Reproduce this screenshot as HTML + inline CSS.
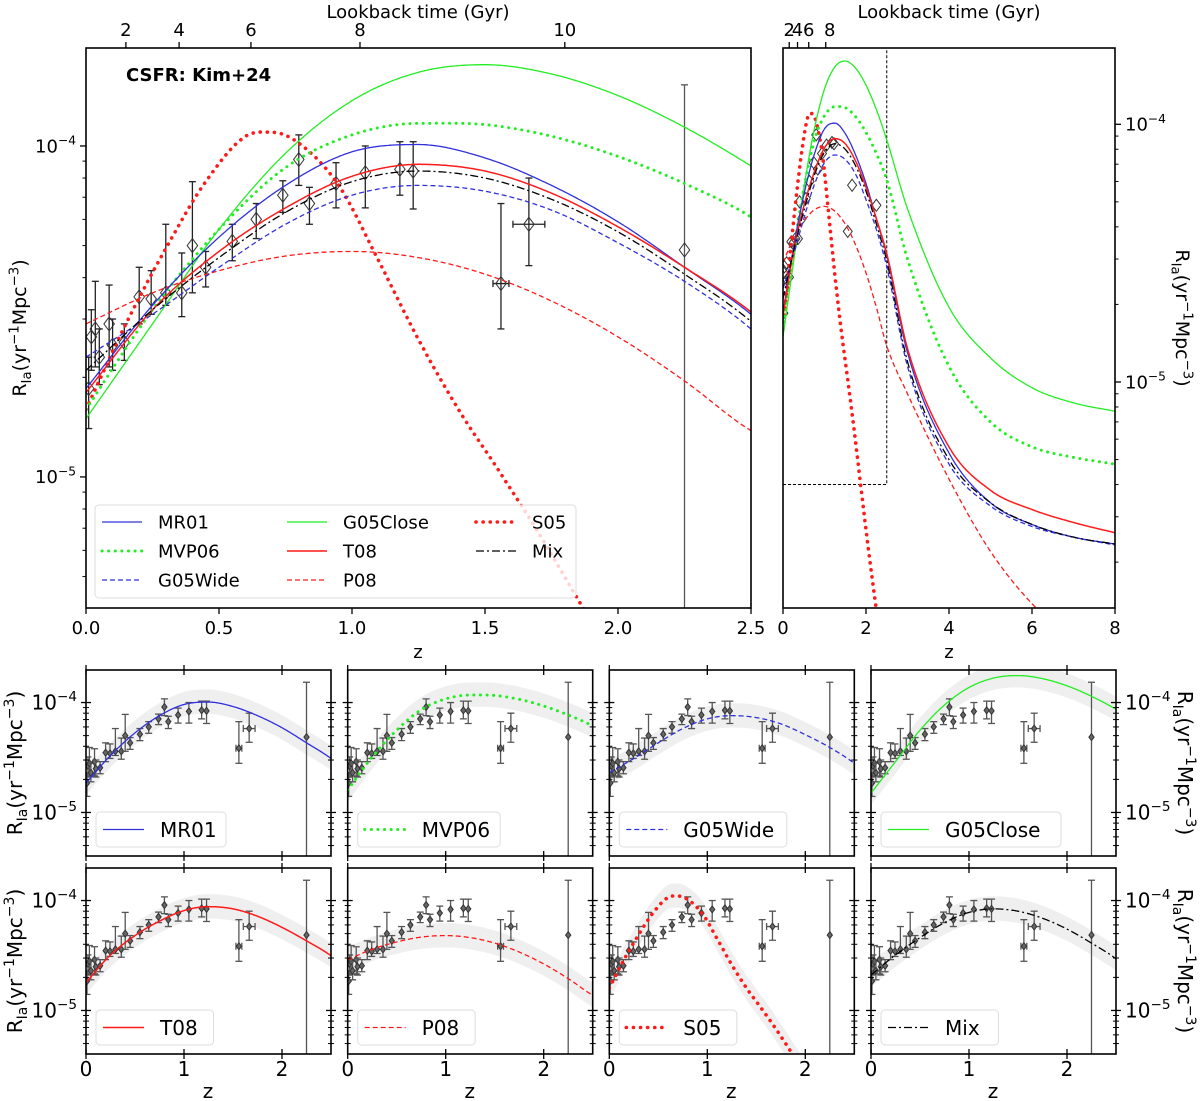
<!DOCTYPE html>
<html><head><meta charset="utf-8"><style>
html,body{margin:0;padding:0;background:#fff}
svg{display:block;font-family:"DejaVu Sans","Liberation Sans",sans-serif}
</style></head><body>
<svg id="fig" width="1200" height="1101" viewBox="0 0 1200 1101" xmlns="http://www.w3.org/2000/svg">
<defs id="defs"></defs>
</svg>
<script>
// ---- model curves (redshift grid and rates) ----
const zGrid=[0,0.25,0.5,0.75,1.0,1.25,1.5,1.75,2.0,2.25,2.5,3,4,5,6,7,8];
const mr01=[1.85e-5,3.3e-5,5.3e-5,7.6e-5,9.6e-5,1.01e-4,9.2e-5,7.6e-5,5.9e-5,4.3e-5,3.1e-5,1.3e-5,5.3e-6,3.4e-6,2.8e-6,2.5e-6,2.35e-6];
const mvp06=[1.6e-5,3.2e-5,5.6e-5,8.6e-5,1.08e-4,1.17e-4,1.16e-4,1.07e-4,9.3e-5,7.7e-5,6.1e-5,3.0e-5,1.15e-5,7.0e-6,5.6e-6,5.1e-6,4.8e-6];
const g05wide=[2.3e-5,3.1e-5,4.3e-5,5.8e-5,7.1e-5,7.6e-5,7.3e-5,6.4e-5,5.1e-5,3.9e-5,2.8e-5,1.15e-5,4.8e-6,3.3e-6,2.75e-6,2.5e-6,2.33e-6];
const g05close=[1.5e-5,2.9e-5,5.6e-5,9.5e-5,1.37e-4,1.67e-4,1.76e-4,1.65e-4,1.42e-4,1.14e-4,8.7e-5,4.7e-5,1.95e-5,1.24e-5,9.5e-6,8.3e-6,7.7e-6];
const t08=[1.8e-5,3.2e-5,4.8e-5,6.5e-5,8.1e-5,8.8e-5,8.4e-5,7.2e-5,5.7e-5,4.3e-5,3.15e-5,1.35e-5,5.6e-6,3.8e-6,3.2e-6,2.85e-6,2.6e-6];
const p08=[2.9e-5,3.6e-5,4.2e-5,4.65e-5,4.8e-5,4.6e-5,4.1e-5,3.4e-5,2.65e-5,1.95e-5,1.38e-5,9e-6,4.2e-6,2.2e-6,1.38e-6,1.0e-6,0.8e-6];
const mix=[2.1e-5,3.2e-5,4.6e-5,6.3e-5,7.8e-5,8.4e-5,8.0e-5,6.9e-5,5.5e-5,4.1e-5,2.95e-5,1.2e-5,5.0e-6,3.4e-6,2.8e-6,2.5e-6,2.35e-6];
const zS05=[0,0.15,0.3,0.45,0.6,0.7,0.8,0.95,1.1,1.25,1.4,1.55,1.7,1.87,2.05,2.25];
const s05=[1.6e-5,2.9e-5,4.9e-5,7.8e-5,1.07e-4,1.1e-4,1.02e-4,7.6e-5,4.5e-5,2.6e-5,1.6e-5,1.05e-5,6.8e-6,4e-6,2.3e-6,1.3e-6];
// ---- observed rates ----
const obsZ=[0.01,0.02,0.035,0.05,0.087,0.1,0.144,0.2,0.245,0.3,0.36,0.40,0.45,0.55,0.64,0.74,0.80,0.84,0.94,1.05,1.18,1.23,1.56,1.665,2.25];
const obsR=[1.85e-5,2.65e-5,2.8e-5,2.3e-5,2.9e-5,2.5e-5,2.55e-5,3.5e-5,3.45e-5,3.6e-5,3.6e-5,5.0e-5,4.3e-5,5.15e-5,6.0e-5,7.1e-5,9.1e-5,6.7e-5,7.7e-5,8.3e-5,8.5e-5,8.4e-5,3.84e-5,5.8e-5,4.85e-5];
const obsLo=[1.4e-5,2.1e-5,2.15e-5,1.9e-5,2.15e-5,2.1e-5,2.25e-5,2.9e-5,3.1e-5,3.3e-5,3.05e-5,3.6e-5,3.75e-5,4.5e-5,5.25e-5,6.3e-5,7.6e-5,5.8e-5,6.5e-5,6.5e-5,7.1e-5,6.45e-5,2.8e-5,4.35e-5,4.0e-6];
const obsHi=[2.3e-5,3.2e-5,3.9e-5,2.8e-5,3.8e-5,3.0e-5,2.9e-5,4.3e-5,4.2e-5,5.8e-5,4.75e-5,7.8e-5,4.8e-5,5.8e-5,6.7e-5,7.85e-5,1.08e-4,7.5e-5,8.9e-5,1.0e-4,1.03e-4,1.03e-4,6.7e-5,8.0e-5,1.53e-4];
const obsXerr=[0,0,0,0,0,0,0,0,0,0,0,0,0,0,0,0,0,0,0,0,0,0,0.03,0.06,0];
// ---- axes tick data ----
const lookTicks=["2","4","6","8","10"];
const lookZ=[0.15,0.35,0.62,1.03,1.8];
const mainXTicks=[0,0.5,1.0,1.5,2.0,2.5];
const rightXTicks=[0,2,4,6,8];
const smallXTicks=[0,1,2];

const NS="http://www.w3.org/2000/svg";
const svg=document.getElementById('fig');
const defs=document.getElementById('defs');
function el(tag,attrs,parent){const e=document.createElementNS(NS,tag);for(const k in attrs)e.setAttribute(k,attrs[k]);(parent||svg).appendChild(e);return e;}

const BLUE="#3030dd",GREEN="#22ee22",RED="#ff1a1a";
const styles={
 mr01:{c:BLUE,w:1.3,d:null,label:"MR01"},
 mvp06:{c:GREEN,w:3,d:"0.1 6.5",cap:"round",label:"MVP06"},
 g05wide:{c:BLUE,w:1.3,d:"5 3",label:"G05Wide"},
 g05close:{c:GREEN,w:1.3,d:null,label:"G05Close"},
 t08:{c:RED,w:1.5,d:null,label:"T08"},
 p08:{c:RED,w:1.3,d:"5 3",label:"P08"},
 s05:{c:RED,w:3.6,d:"0.1 7",cap:"round",label:"S05"},
 mix:{c:"#000",w:1.3,d:"8 3 2 3",label:"Mix"}
};
const seriesData={mr01:[zGrid,mr01],mvp06:[zGrid,mvp06],g05wide:[zGrid,g05wide],g05close:[zGrid,g05close],t08:[zGrid,t08],p08:[zGrid,p08],s05:[zS05,s05],mix:[zGrid,mix]};

function mkAxis(x0,x1,y0,y1,zmax,lt,lb){
 return {x0,x1,y0,y1,zmax,lt,lb,
  X:z=>x0+(z/zmax)*(x1-x0),
  Y:v=>y0+(lt-Math.log10(v))/(lt-lb)*(y1-y0)};
}
function interp(xs,ys){
 const n=xs.length,l=ys.map(v=>Math.log10(v)),m=new Array(n),d=[];
 for(let i=0;i<n-1;i++)d.push((l[i+1]-l[i])/(xs[i+1]-xs[i]));
 m[0]=d[0];m[n-1]=d[n-2];
 for(let i=1;i<n-1;i++)m[i]=(d[i-1]*d[i]<=0)?0:(d[i-1]+d[i])/2;
 return z=>{let i=0;while(i<n-2&&z>xs[i+1])i++;const h=xs[i+1]-xs[i],t=(z-xs[i])/h;
  const h00=2*t*t*t-3*t*t+1,h10=t*t*t-2*t*t+t,h01=-2*t*t*t+3*t*t,h11=t*t*t-t*t;
  return Math.pow(10,h00*l[i]+h10*h*m[i]+h01*l[i+1]+h11*h*m[i+1]);};
}
let clipN=0;
function clip(ax){const id='c'+(clipN++);const cp=el('clipPath',{id},defs);el('rect',{x:ax.x0,y:ax.y0,width:ax.x1-ax.x0,height:ax.y1-ax.y0},cp);return 'url(#'+id+')';}
function curvePts(ax,key,zlim,scale){const [zs,vs]=seriesData[key];const f=interp(zs,vs);const zend=Math.min(zlim,zs[zs.length-1]);const pts=[];for(let k=0;k<=400;k++){const z=zend*k/400;pts.push([ax.X(z),ax.Y(f(z)*(scale||1))]);}return pts;}
function drawCurve(ax,key,g,zlim){const s=styles[key];const p=el('polyline',{points:curvePts(ax,key,zlim).map(q=>q[0].toFixed(1)+','+q[1].toFixed(1)).join(' '),fill:'none',stroke:s.c,'stroke-width':s.w},g);
 
 
 if(s.d)p.setAttribute('stroke-dasharray',s.d);if(s.cap)p.setAttribute('stroke-linecap',s.cap);}
function drawBand(ax,key,g){const up=curvePts(ax,key,ax.zmax,1.3),dn=curvePts(ax,key,ax.zmax,0.78).reverse();
 const p=el('polygon',{points:up.concat(dn).map(q=>q[0].toFixed(1)+','+q[1].toFixed(1)).join(' '),fill:'#efefef',stroke:'none'},g);
 
 }
function drawData(ax,g,size,withErr,col){
 for(let i=0;i<obsZ.length;i++){
  const x=ax.X(obsZ[i]),y=ax.Y(obsR[i]);
  const grp=el('g',{},g);
  
  
  if(withErr){
   const ec=(i===24)?'#555':col;
   const yt=ax.Y(obsHi[i]),yb=ax.Y(obsLo[i]);
   el('line',{x1:x,y1:yt,x2:x,y2:yb,stroke:ec,'stroke-width':1.3},grp);
   el('line',{x1:x-3.5,y1:yt,x2:x+3.5,y2:yt,stroke:ec,'stroke-width':1.3},grp);
   el('line',{x1:x-3.5,y1:yb,x2:x+3.5,y2:yb,stroke:ec,'stroke-width':1.3},grp);
   if(obsXerr[i]>0){const xl=ax.X(obsZ[i]-obsXerr[i]),xr=ax.X(obsZ[i]+obsXerr[i]);
    el('line',{x1:xl,y1:y,x2:xr,y2:y,stroke:ec,'stroke-width':1.3},grp);
    el('line',{x1:xl,y1:y-3.5,x2:xl,y2:y+3.5,stroke:ec,'stroke-width':1.3},grp);
    el('line',{x1:xr,y1:y-3.5,x2:xr,y2:y+3.5,stroke:ec,'stroke-width':1.3},grp);}
  }
  el('polygon',{points:`${x},${y-size} ${x+size*0.75},${y} ${x},${y+size} ${x-size*0.75},${y}`,fill:withErr&&size<5?'#666':'none',stroke:'#333','stroke-width':1},grp);
 }
}
function frame(ax,name){const r=el('rect',{x:ax.x0,y:ax.y0,width:ax.x1-ax.x0,height:ax.y1-ax.y0,fill:'none',stroke:'#000','stroke-width':1.6});
 
 }
function txt(x,y,s,opts,parent){const t=el('text',Object.assign({x,y,'font-size':18,fill:'#000'},opts||{}),parent);t.textContent=s;return t;}
function powLabel(x,y,exp,fs,anchor,name){const t=el('text',{x,y,'font-size':fs,'text-anchor':anchor||'end'});
 
 
 const a=el('tspan',{},t);a.textContent='10';const b=el('tspan',{dy:-fs*0.42,'font-size':fs*0.68},t);b.textContent='−'+exp;}
function yTicks(ax,side,major,minor,labels,fs,both){
 for(let e=-7;e<=-3;e++){for(let k=1;k<=9;k++){const v=k*Math.pow(10,e);const lv=Math.log10(v);if(lv>ax.lt||lv<ax.lb)continue;
  const y=ax.Y(v),len=k===1?major:minor;const xs=side==='left'?ax.x0:ax.x1;const dir=side==='left'?-1:1;
  el('line',{x1:both?xs-dir*len:xs,y1:y,x2:xs+dir*len,y2:y,stroke:'#000','stroke-width':k===1?1.3:1});
  if(k===1&&labels){powLabel(side==='left'?xs-len-4:xs+len+4,y+fs*0.35,String(-e),fs,side==='left'?'end':'start','y-tick-label');}}}
}
function ylabel(x,y,rot,fs,name){const t=el('text',{x:0,y:0,'font-size':fs,'text-anchor':'middle',transform:`translate(${x},${y}) rotate(${rot})`});
 
 
 const parts=[['R',0,1],['Ia',fs*0.25,0.7],['(yr',-fs*0.25,1],['−1',-fs*0.4,0.7],['Mpc',fs*0.4,1],['−3',-fs*0.4,0.7],[')',fs*0.4,1]];
 for(const [s,dy,sc] of parts){const sp=el('tspan',{dy,'font-size':fs*sc},t);sp.textContent=s;}}

// ===== main panel =====
const A=mkAxis(86,751,48,608,2.5,-3.704,-5.396);
const gA=el('g',{'clip-path':clip(A)});


drawData(A,gA,7,true,'#222');
for(const k of ['p08','s05','g05close','mvp06','mr01','g05wide','t08','mix'])drawCurve(A,k,gA,2.5);
frame(A,'main-axes-frame');
yTicks(A,'left',6,3.5,true,18,false);
mainXTicks.forEach(z=>{const x=A.X(z);el('line',{x1:x,y1:A.y1,x2:x,y2:A.y1+6,stroke:'#000','stroke-width':1.3});const t=txt(x,634,z.toFixed(1),{'text-anchor':'middle'});});
lookTicks.forEach((s,i)=>{const x=A.X(lookZ[i]);el('line',{x1:x,y1:A.y0,x2:x,y2:A.y0-6,stroke:'#000','stroke-width':1.3});const t=txt(x,36,s,{'text-anchor':'middle'});});
txt(418,18,'Lookback time (Gyr)',{'text-anchor':'middle',});
txt(418,658,'z',{'text-anchor':'middle',});
txt(126,81,'CSFR: Kim+24',{'font-weight':'bold','font-size':18,});
ylabel(26,328,-90,19,'y-axis-title');
const lg=el('g',{});


el('rect',{x:95,y:505,width:481,height:93,rx:4,fill:'#fff','fill-opacity':0.8,stroke:'#ddd'},lg);
const legCols=[[102,158,['mr01','mvp06','g05wide']],[287,343,['g05close','t08','p08']],[476,532,['s05','mix']]];
legCols.forEach(([lx,tx,keys])=>keys.forEach((k,r)=>{const y=522+r*29;const s=styles[k];
 const ln=el('line',{x1:lx,y1:y,x2:lx+40,y2:y,stroke:s.c,'stroke-width':s.w},lg);if(s.d)ln.setAttribute('stroke-dasharray',s.d);if(s.cap)ln.setAttribute('stroke-linecap',s.cap);
 const t=txt(tx,y+6.5,s.label,{},lg);}));

// ===== right panel =====
const B=mkAxis(783,1115,48,608,8,-3.704,-5.877);
const gB=el('g',{'clip-path':clip(B)});


el('polyline',{points:`${B.X(0)},${B.Y(4e-6)} ${B.X(2.5)},${B.Y(4e-6)} ${B.X(2.5)},${B.y0}`,fill:'none',stroke:'#000','stroke-width':1,'stroke-dasharray':'3 2'},gB);
drawData(B,gB,6,false,'#222');
for(const k of ['p08','s05','g05close','mvp06','mr01','g05wide','t08','mix'])drawCurve(B,k,gB,8);
frame(B,'extended-axes-frame');
yTicks(B,'right',6,3.5,true,18,false);
rightXTicks.forEach(z=>{const x=B.X(z);el('line',{x1:x,y1:B.y1,x2:x,y2:B.y1+6,stroke:'#000','stroke-width':1.3});const t=txt(x,634,String(z),{'text-anchor':'middle'});});
lookTicks.slice(0,4).forEach((s,i)=>{const x=B.X(lookZ[i]);el('line',{x1:x,y1:B.y0,x2:x,y2:B.y0-6,stroke:'#000','stroke-width':1.3});const t=txt(x+(i===3?4:0),36,s,{'text-anchor':'middle'});});
txt(949,18,'Lookback time (Gyr)',{'text-anchor':'middle',});
txt(949,658,'z',{'text-anchor':'middle',});
ylabel(1176,318,90,19,'y-axis-title-right');

// ===== small panels =====
const order=['mr01','mvp06','g05wide','g05close','t08','p08','s05','mix'];
const colX=[86,347.7,609.3,871],rowY=[670,868];
order.forEach((k,i)=>{
 const c=i%4,r=Math.floor(i/4);
 const ax=mkAxis(colX[c],colX[c]+245,rowY[r],rowY[r]+186,2.5,-3.704,-5.396);
 const g=el('g',{'clip-path':clip(ax)});
 
 
 drawBand(ax,k,g);
 drawData(ax,g,3.5,true,'#555');
 drawCurve(ax,k,g,2.5);
 frame(ax,'panel-frame-'+k);
 yTicks(ax,'left',5,3,c===0,20,true);
 yTicks(ax,'right',5,3,c===3,20,true);
 smallXTicks.forEach(z=>{const x=ax.X(z);el('line',{x1:x,y1:ax.y1-5,x2:x,y2:ax.y1+5,stroke:'#000','stroke-width':1.3});el('line',{x1:x,y1:ax.y0-5,x2:x,y2:ax.y0+5,stroke:'#000','stroke-width':1.3});
  if(r===1){const t=txt(x,1076,String(z),{'text-anchor':'middle','font-size':20});}});
 if(r===1)txt(ax.x0+122,1098,'z',{'text-anchor':'middle','font-size':20,});
 const s=styles[k];const lgx=ax.x0+10,lgy=ax.y0+142;
 const lgg=el('g',{});
 
 
 el('rect',{x:lgx,y:lgy,width:s.label.length*12.5+80,height:35,rx:4,fill:'#fff','fill-opacity':0.8,stroke:'#ddd'},lgg);
 const ln=el('line',{x1:lgx+7,y1:lgy+17.5,x2:lgx+48,y2:lgy+17.5,stroke:s.c,'stroke-width':s.w},lgg);if(s.d)ln.setAttribute('stroke-dasharray',s.d);if(s.cap)ln.setAttribute('stroke-linecap',s.cap);
 const t=txt(lgx+64,lgy+25,s.label,{'font-size':20},lgg);
 if(c===0)ylabel(22,ax.y0+93,-90,20,'y-axis-title');
 if(c===3)ylabel(1178,ax.y0+93,90,20,'y-axis-title-right');
});
</script>
</body></html>
